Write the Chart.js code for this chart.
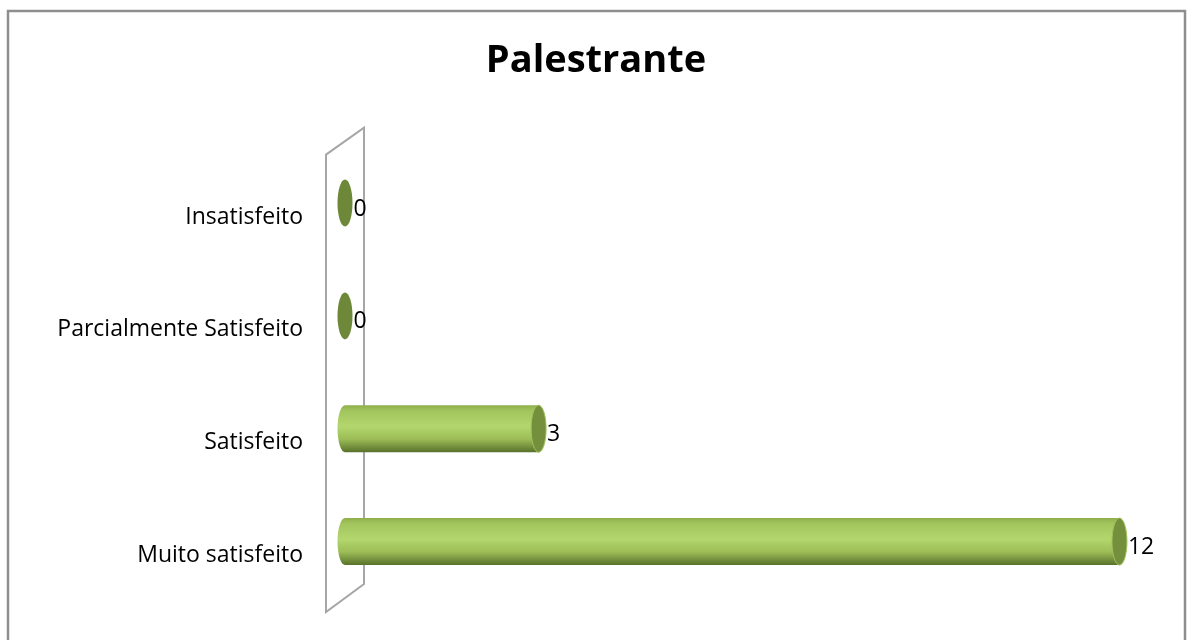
<!DOCTYPE html>
<html><head><meta charset="utf-8">
<script src="https://cdn.jsdelivr.net/npm/chart.js@4/dist/chart.umd.min.js"></script>
<style>html,body{margin:0;padding:0;background:#fff}#wrap{width:1187px;height:640px}</style>
</head><body><div id="wrap"><canvas id="c" width="1187" height="640"></canvas></div>
<script>
const categories = ["Insatisfeito", "Parcialmente Satisfeito", "Satisfeito", "Muito satisfeito"];
const values = [0, 0, 3, 12];
const chartTitle = "Palestrante";
const FONT = "'Open Sans', 'Liberation Sans', sans-serif";

const framePlugin = {
  id: 'frame',
  beforeDraw(chart) {
    const ctx = chart.ctx, a = chart.chartArea;
    ctx.save();
    ctx.fillStyle = '#fff';
    ctx.fillRect(0, 0, chart.width, chart.height);
    ctx.strokeStyle = '#8e8e8e';
    ctx.lineWidth = 2.5;
    ctx.strokeRect(8, 11, 1177, 700);
    // 3D wall
    const L = a.left - 19, R = a.left + 19;
    ctx.strokeStyle = '#a6a6a6';
    ctx.lineWidth = 2;
    ctx.beginPath();
    ctx.moveTo(L, a.top + 8);
    ctx.lineTo(R, a.top - 19);
    ctx.lineTo(R, a.bottom - 14);
    ctx.lineTo(L, a.bottom + 14);
    ctx.closePath();
    ctx.stroke();
    ctx.restore();
  }
};

const cylPlugin = {
  id: 'cyl',
  afterDatasetsDraw(chart) {
    const ctx = chart.ctx;
    const meta = chart.getDatasetMeta(0);
    ctx.save();
    meta.data.forEach((bar, i) => {
      const p = bar.getProps(['x', 'y', 'base', 'height'], true);
      const h = p.height, top = p.y - h / 2, bot = p.y + h / 2;
      const rx = 7.5, ry = h / 2;
      if (p.x - p.base > 1) {
        const g = ctx.createLinearGradient(0, top, 0, bot);
        g.addColorStop(0, '#8fae4c');
        g.addColorStop(0.12, '#a3c55d');
        g.addColorStop(0.45, '#b3d66d');
        g.addColorStop(0.72, '#9cbd57');
        g.addColorStop(1, '#58712b');
        ctx.fillStyle = g;
        ctx.beginPath();
        ctx.moveTo(p.x, top);
        ctx.lineTo(p.base, top);
        ctx.ellipse(p.base, p.y, rx, ry, 0, -Math.PI / 2, Math.PI / 2, true);
        ctx.lineTo(p.x, bot);
        ctx.closePath();
        ctx.fill();
        ctx.beginPath();
        ctx.ellipse(p.x, p.y, rx, ry, 0, 0, Math.PI * 2);
        ctx.fillStyle = '#74903c';
        ctx.fill();
        ctx.strokeStyle = '#a2c15c';
        ctx.lineWidth = 1;
        ctx.stroke();
      } else {
        ctx.beginPath();
        ctx.ellipse(p.x, p.y, rx, ry, 0, 0, Math.PI * 2);
        ctx.fillStyle = '#6d8838';
        ctx.fill();
      }
      ctx.fillStyle = '#000';
      ctx.font = '23px ' + FONT;
      ctx.textAlign = 'left';
      ctx.textBaseline = 'middle';
      ctx.fillText(String(values[i]), p.x + rx + 1, p.y + 6);
    });
    ctx.restore();
  }
};

new Chart(document.getElementById('c'), {
  type: 'bar',
  data: {
    labels: categories,
    datasets: [{
      data: values,
      backgroundColor: 'rgba(0,0,0,0)',
      borderWidth: 0,
      barThickness: 47
    }]
  },
  options: {
    indexAxis: 'y',
    responsive: false,
    animation: false,
    devicePixelRatio: 1,
    layout: { padding: { left: 8, right: 3, top: 0, bottom: 42 } },
    plugins: {
      legend: { display: false },
      tooltip: { enabled: false },
      title: {
        display: true,
        text: chartTitle,
        color: '#000',
        font: { family: FONT, size: 38, weight: 'bold', lineHeight: 1.2 },
        padding: { top: 38, bottom: 63 }
      }
    },
    scales: {
      x: { display: false, min: 0, max: 13 },
      y: {
        grid: { display: false, drawTicks: false },
        border: { display: false },
        ticks: { color: '#000', padding: 42, labelOffset: 14, font: { family: FONT, size: 23 } },
        afterFit(scale) { scale.width = 337; scale.paddingTop = 0; scale.paddingBottom = 0; }
      }
    }
  },
  plugins: [framePlugin, cylPlugin]
});
</script>
</body></html>
